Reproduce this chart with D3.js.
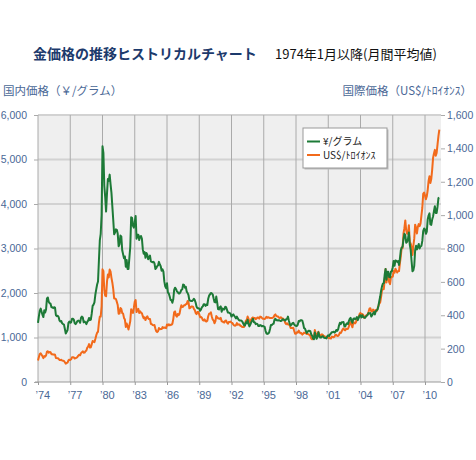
<!DOCTYPE html>
<html>
<head>
<meta charset="utf-8">
<script src="https://cdn.jsdelivr.net/npm/d3@7/dist/d3.min.js"></script>
<style>
  body { margin: 0; background: #fff; }
  svg { display: block; }
</style>
</head>
<body>
<svg id="chart" width="476" height="460"></svg>
<script>
// Monthly averages starting January 1974
const startYear = 1974;

// Domestic price, yen per gram
const yenPerGram = [
  1330,1480,1600,1650,1580,1510,1460,1610,1560,1630,1880,1900,
  1800,1770,1760,1680,1680,1660,1680,1670,1500,1480,1490,1460,
  1380,1360,1370,1320,1300,1290,1190,1090,1130,1170,1330,1360,
  1330,1340,1420,1420,1400,1320,1300,1330,1370,1380,1370,1330,
  1440,1470,1450,1340,1360,1340,1300,1350,1380,1440,1390,1400,
  1540,1710,1740,1790,1960,2080,2190,2260,2730,3180,3330,3760,
  5300,5150,4410,4160,3830,4230,4560,4520,4660,4440,4250,3940,
  3640,3320,3360,3430,3420,3330,3050,3100,3290,3270,2960,2870,
  2780,2820,2590,2740,2540,2540,2790,3040,3700,3690,3510,3470,
  3590,3730,3220,3310,3310,3190,3270,3280,3220,2980,2880,2920,
  2790,2900,2860,2760,2800,2840,2710,2700,2690,2700,2670,2540,
  2560,2600,2620,2700,2640,2600,2500,2530,2480,2260,2150,2110,
  2220,2010,1990,1920,1840,1840,1780,1860,2070,2120,2090,2040,
  2020,1990,1990,2020,2070,2080,2190,2180,2120,2140,2030,2000,
  1950,1830,1830,1820,1820,1840,1870,1840,1780,1690,1660,1660,
  1650,1600,1630,1680,1700,1750,1750,1710,1740,1730,1870,1940,
  1970,2000,1990,1970,1880,1800,1790,1920,1790,1640,1630,1680,
  1700,1580,1650,1630,1630,1690,1680,1620,1560,1560,1550,1530,
  1470,1500,1520,1490,1460,1430,1470,1430,1400,1380,1380,1380,
  1360,1320,1280,1270,1340,1320,1400,1300,1250,1290,1340,1380,
  1420,1340,1340,1300,1310,1300,1260,1260,1280,1270,1250,1260,
  1250,1240,1150,1090,1080,1090,1110,1190,1280,1280,1300,1310,
  1400,1420,1390,1390,1380,1390,1380,1370,1380,1410,1400,1390,
  1380,1410,1420,1470,1380,1310,1270,1290,1320,1330,1290,1270,
  1260,1260,1290,1370,1360,1390,1390,1380,1310,1210,1200,1150,
  1100,1130,1150,1150,1140,1070,1040,980,960,1110,1030,970,
  1010,1120,1040,1000,1000,1020,1030,1000,990,990,980,1030,
  1050,1030,1070,1090,1120,1120,1130,1110,1130,1170,1150,1180,
  1270,1330,1300,1340,1340,1350,1250,1250,1300,1320,1300,1370,
  1420,1440,1370,1330,1420,1430,1410,1430,1460,1390,1440,1490,
  1500,1450,1500,1460,1450,1440,1470,1490,1510,1550,1540,1550,
  1470,1500,1540,1570,1520,1590,1610,1630,1710,1820,1920,2050,
  2150,2210,2220,2410,2540,2300,2480,2480,2360,2350,2480,2490,
  2580,2720,2610,2730,2720,2700,2720,2630,2770,2960,3020,3040,
  3210,3330,3300,3130,3150,3210,3360,3090,2970,2720,2490,2510,
  2610,2960,3060,2980,3040,3100,3000,3050,3060,3170,3390,3450,
  3430,3330,3380,3650,3740,3790,3540,3530,3650,3720,3840,3950,
  3800,3800,3940,4130,4140
];

// International price, US$ per troy ounce
const usdPerOunce = [
  129,150,168,172,163,154,143,155,152,159,182,184,
  176,180,178,167,167,164,165,163,144,143,143,139,
  132,131,133,128,127,126,118,110,114,116,130,134,
  132,136,148,149,147,141,143,145,150,158,163,160,
  173,178,184,175,176,184,189,206,212,227,206,208,
  227,246,242,239,258,279,295,301,355,392,392,455,
  675,665,554,517,514,601,644,627,674,661,624,595,
  557,501,500,497,480,461,409,410,443,438,413,410,
  384,374,330,351,334,315,339,365,436,422,414,445,
  481,491,419,433,438,413,423,416,412,394,382,388,
  371,385,394,381,377,378,348,347,341,340,341,320,
  304,299,304,324,316,317,317,329,324,326,325,323,
  345,339,346,340,343,343,349,377,418,423,399,391,
  408,401,409,438,460,450,451,460,460,466,467,486,
  478,442,444,452,452,451,438,431,413,407,420,419,
  405,388,390,384,371,368,375,365,362,367,394,409,
  410,417,393,374,369,352,363,395,389,381,381,378,
  384,364,363,358,357,367,368,356,349,359,360,362,
  355,354,344,339,337,341,353,343,345,344,335,335,
  329,329,330,342,367,372,392,379,355,364,374,383,
  387,382,384,377,381,386,386,380,392,390,384,379,
  379,377,382,391,385,388,386,383,383,383,386,388,
  400,405,396,393,392,385,384,388,383,381,378,369,
  354,347,352,345,344,341,324,324,323,325,306,289,
  289,298,296,308,299,292,293,284,289,296,294,292,
  287,287,286,283,276,261,256,257,265,311,293,282,
  285,301,287,280,275,286,282,275,274,270,266,272,
  266,262,263,261,272,270,268,272,283,283,276,276,
  282,296,294,303,315,321,313,310,319,317,319,332,
  357,359,341,328,356,356,351,360,379,379,390,408,
  414,405,407,403,384,392,398,401,405,421,439,442,
  424,423,434,429,422,431,425,438,456,470,477,510,
  550,555,557,611,677,596,634,633,598,586,628,630,
  631,665,655,679,667,656,665,665,713,755,806,803,
  890,922,968,910,889,890,940,839,830,807,761,816,
  859,943,924,890,929,946,934,949,997,1043,1127,1135,
  1118,1095,1113,1149,1205,1233,1193,1216,1271,1342,1370,1391,
  1356,1373,1424,1474,1512
];

const xTickYears  = [1974,1977,1980,1983,1986,1989,1992,1995,1998,2001,2004,2007,2010];
const xTickLabels = ["’74","’77","’80","’83","’86","’89","’92","’95","’98","’01","’04","’07","’10"];
const leftTicks   = [0,1000,2000,3000,4000,5000,6000];
const rightTicks  = [0,200,400,600,800,1000,1200,1400,1600];
const seriesNames = ["¥/グラム","US$/ﾄﾛｲｵﾝｽ"];
const seriesColors = ["#1d7a37","#f26a1b"];

const svg = d3.select("#chart");
const labelColor = "#4a6896";
const numFont = "'Liberation Sans', Arial, sans-serif";
const jpFont = "'Noto Sans CJK JP', sans-serif";

const plot = {left: 38, right: 441, top: 115, bottom: 382};
const x = d3.scaleLinear().domain([1974, 2010]).range([38, 425]);
const yL = d3.scaleLinear().domain([0, 6000]).range([plot.bottom, plot.top]);
const yR = d3.scaleLinear().domain([0, 1600]).range([plot.bottom, plot.top]);

// Titles
svg.append("text").attr("x", 33).attr("y", 59)
  .attr("font-family", jpFont).attr("font-weight", "bold").attr("font-size", 14)
  .attr("fill", "#1c3a6c").text("金価格の推移ヒストリカルチャート");
svg.append("text").attr("x", 275).attr("y", 59)
  .attr("font-family", jpFont).attr("font-size", 13)
  .attr("fill", "#111").text("1974年1月以降(月間平均値)");
svg.append("text").attr("x", 3).attr("y", 95)
  .attr("font-family", jpFont).attr("font-size", 11.5)
  .attr("fill", labelColor).text("国内価格（￥/グラム）");
svg.append("text").attr("x", 472).attr("y", 95).attr("text-anchor", "end")
  .attr("font-family", jpFont).attr("font-size", 11.5)
  .attr("fill", labelColor).text("国際価格（US$/ﾄﾛｲｵﾝｽ）");

// Plot background
svg.append("rect").attr("x", plot.left).attr("y", plot.top)
  .attr("width", plot.right - plot.left).attr("height", plot.bottom - plot.top)
  .attr("fill", "#efefef");

// Horizontal grid
svg.append("g").selectAll("line").data(leftTicks.filter(d => d > 0)).join("line")
  .attr("x1", plot.left).attr("x2", plot.right)
  .attr("y1", d => yL(d)).attr("y2", d => yL(d))
  .attr("stroke", "#d2d2d2").attr("stroke-width", 2);

// Vertical grid
svg.append("g").selectAll("line").data(xTickYears).join("line")
  .attr("x1", d => x(d)).attr("x2", d => x(d))
  .attr("y1", plot.top).attr("y2", plot.bottom)
  .attr("stroke", "#aaaaaa").attr("stroke-width", 1);

// Left axis
const leftAxis = d3.axisLeft(yL).tickValues(leftTicks).tickSize(4).tickPadding(7)
  .tickFormat(d3.format(","));
const gL = svg.append("g").attr("transform", `translate(${plot.left},0)`).call(leftAxis);
gL.select(".domain").remove();
gL.selectAll(".tick line").attr("stroke", "#aaa");
gL.selectAll(".tick text").attr("fill", labelColor).attr("font-family", numFont).attr("font-size", 10.5);

// Right axis
const rightAxis = d3.axisRight(yR).tickValues(rightTicks).tickSize(4).tickPadding(2)
  .tickFormat(d3.format(","));
const gR = svg.append("g").attr("transform", `translate(${plot.right},0)`).call(rightAxis);
gR.select(".domain").remove();
gR.selectAll(".tick line").attr("stroke", "#aaa");
gR.selectAll(".tick text").attr("fill", labelColor).attr("font-family", numFont).attr("font-size", 10.5);

// Bottom axis
const bottomAxis = d3.axisBottom(x).tickValues(xTickYears).tickSize(3).tickPadding(6)
  .tickFormat((d, i) => xTickLabels[i]);
const gB = svg.append("g").attr("transform", `translate(0,${plot.bottom})`).call(bottomAxis);
gB.select(".domain").attr("d", `M${plot.left - 3},0H${plot.right}`).attr("stroke", "#999");
gB.selectAll(".tick line").attr("stroke", "#999");
gB.selectAll(".tick text").attr("fill", labelColor).attr("font-family", numFont)
  .attr("font-size", 11).attr("text-anchor", "start").attr("dx", -3);

// Lines
const t = i => startYear + i / 12;
const lineYen = d3.line().x((d, i) => x(t(i))).y(d => yL(d));
const lineUsd = d3.line().x((d, i) => x(t(i))).y(d => yR(d));
svg.append("path").datum(usdPerOunce).attr("d", lineUsd)
  .attr("fill", "none").attr("stroke", seriesColors[1]).attr("stroke-width", 2)
  .attr("stroke-linejoin", "round");
svg.append("path").datum(yenPerGram).attr("d", lineYen)
  .attr("fill", "none").attr("stroke", seriesColors[0]).attr("stroke-width", 2)
  .attr("stroke-linejoin", "round");

// Legend
const lg = svg.append("g").attr("transform", "translate(303,128)");
lg.append("rect").attr("x", 1.5).attr("y", 1.5).attr("width", 84).attr("height", 40).attr("fill", "#bbb");
lg.append("rect").attr("x", 0).attr("y", 0).attr("width", 84).attr("height", 40)
  .attr("fill", "#fff").attr("stroke", "#999").attr("stroke-width", 1);
seriesNames.forEach((name, i) => {
  const yy = 13.5 + i * 13.5;
  lg.append("line").attr("x1", 4).attr("x2", 17).attr("y1", yy).attr("y2", yy)
    .attr("stroke", seriesColors[i]).attr("stroke-width", 2);
  lg.append("text").attr("x", 20).attr("y", yy + 3.5)
    .attr("font-family", jpFont).attr("font-size", 10).attr("fill", "#222").text(name);
});
</script>
</body>
</html>
